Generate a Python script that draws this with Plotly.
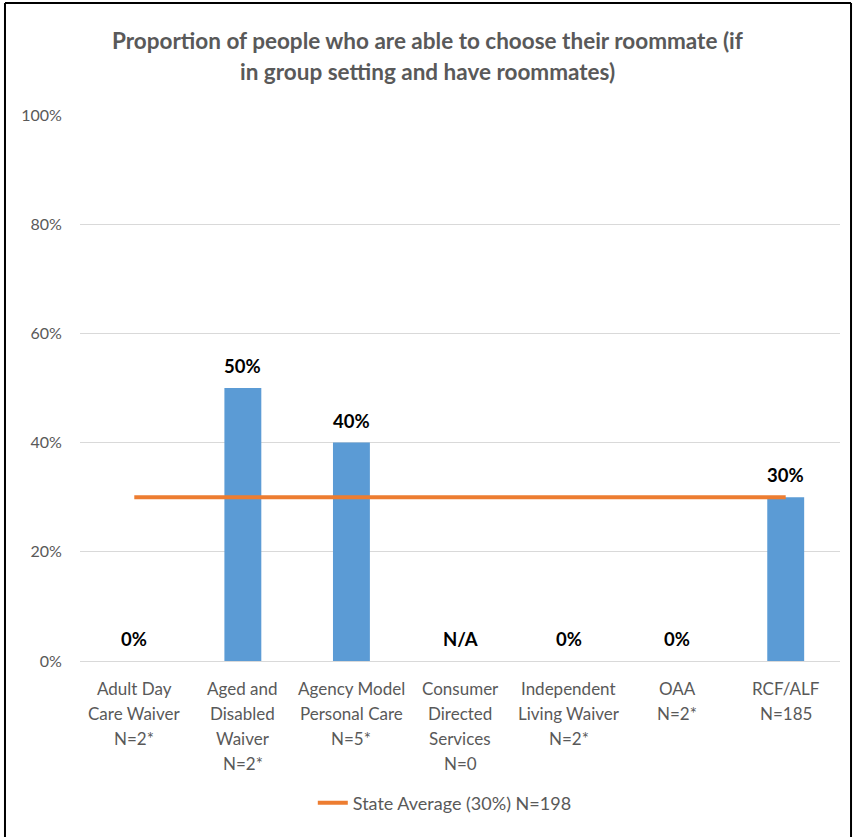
import plotly.graph_objects as go

# Program categories, their tick-label lines, and the share choosing their roommate
categories = [
    "Adult Day Care Waiver",
    "Aged and Disabled Waiver",
    "Agency Model Personal Care",
    "Consumer Directed Services",
    "Independent Living Waiver",
    "OAA",
    "RCF/ALF",
]
category_lines = [
    ["Adult Day", "Care Waiver", "N=2*"],
    ["Aged and", "Disabled", "Waiver", "N=2*"],
    ["Agency Model", "Personal Care", "N=5*"],
    ["Consumer", "Directed", "Services", "N=0"],
    ["Independent", "Living Waiver", "N=2*"],
    ["OAA", "N=2*"],
    ["RCF/ALF", "N=185"],
]
values = [0, 50, 40, None, 0, 0, 30]
state_average = [30, 30, 30, 30, 30, 30, 30]
y_ticks = [0, 20, 40, 60, 80, 100]
title_lines = [
    "Proportion of people who are able to choose their roommate (if",
    "in group setting and have roommates)",
]

FONT = "Lato"
BAR_COLOR = "#5B9BD5"
LINE_COLOR = "#ED7D31"
TEXT_GRAY = "#595959"

fig = go.Figure()

fig.add_trace(go.Bar(
    x=categories, y=values,
    marker=dict(color=BAR_COLOR, line=dict(width=0)),
    showlegend=False, hoverinfo="skip",
))

fig.add_trace(go.Scatter(
    x=categories, y=state_average, mode="lines",
    line=dict(color=LINE_COLOR, width=4),
    name="State Average (30%) N=198",
))

annotations = []

# Value labels above each bar ("N/A" where there is no data)
for cat, v in zip(categories, values):
    annotations.append(dict(
        x=cat, y=0 if v is None else v, xref="x", yref="y",
        text="N/A" if v is None else f"{v}%",
        showarrow=False, yanchor="middle", yshift=22,
        font=dict(family=FONT, size=18.5, color="#000000", weight="bold"),
    ))

# Category labels, one line at a time for Excel-like line spacing
for cat, lines in zip(categories, category_lines):
    for i, line in enumerate(lines):
        annotations.append(dict(
            x=cat, y=0, xref="x", yref="paper",
            text=line, showarrow=False, yanchor="middle",
            yshift=-27 - 25 * i,
            font=dict(family=FONT, size=17, color=TEXT_GRAY),
        ))

# Two-line chart title, centred on the whole figure
for i, line in enumerate(title_lines):
    annotations.append(dict(
        x=0.4566, y=1, xref="paper", yref="paper",
        text=f"<b>{line}</b>", showarrow=False, yanchor="middle",
        yshift=75 - 31 * i,
        font=dict(family=FONT, size=22.5, color=TEXT_GRAY),
    ))

fig.update_layout(
    width=854, height=837,
    margin=dict(l=80, r=14, t=115, b=176),
    paper_bgcolor="white", plot_bgcolor="white",
    font=dict(family=FONT, size=16, color=TEXT_GRAY),
    bargap=0.66,
    showlegend=True,
    legend=dict(
        orientation="h", x=0.48, xanchor="center",
        y=-0.26, yanchor="middle",
        font=dict(family=FONT, size=18, color=TEXT_GRAY),
    ),
    xaxis=dict(
        type="category", showgrid=False, showline=False, zeroline=False,
        showticklabels=False, ticks="",
    ),
    yaxis=dict(
        range=[0, 100], tickvals=y_ticks,
        ticktext=[f"{t}%" for t in y_ticks],
        showgrid=True, gridcolor="#D9D9D9", gridwidth=1,
        zeroline=True, zerolinecolor="#D9D9D9", zerolinewidth=1,
        showline=False,
        ticks="outside", ticklen=14, tickcolor="rgba(0,0,0,0)",
        tickfont=dict(family=FONT, size=16, color=TEXT_GRAY),
    ),
    annotations=annotations,
    shapes=[
        dict(type="line", xref="paper", yref="paper",
             x0=-0.0987, x1=-0.0987, y0=1.205, y1=-0.40,
             line=dict(color="black", width=2)),
        dict(type="line", xref="paper", yref="paper",
             x0=-0.0987, x1=1.0145, y0=1.205, y1=1.205,
             line=dict(color="black", width=2)),
        dict(type="line", xref="paper", yref="paper",
             x0=1.0145, x1=1.0145, y0=1.205, y1=-0.40,
             line=dict(color="black", width=2)),
    ],
)

fig.write_html("out.html")
